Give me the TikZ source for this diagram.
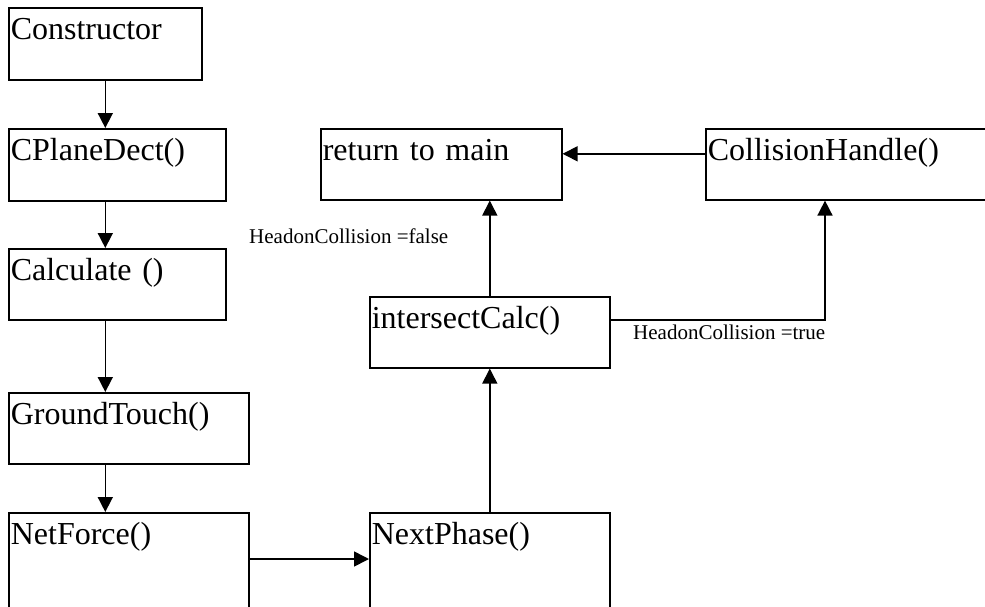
\documentclass[tikz,border=0pt]{standalone}
\usepackage{fontspec}
\setmainfont{Liberation Serif}
\usetikzlibrary{arrows.meta}
\tikzset{
  fbox/.style={draw, line width=1.6pt, anchor=north west, inner xsep=2pt, inner ysep=0pt,
    align=left, text height=32pt, font=\fontsize{32}{38}\selectfont},
  arr/.style={line width=1.6pt, -{Triangle[length=15pt,width=15pt]}},
  cond/.style={anchor=base west, inner sep=0pt, font=\fontsize{21}{25}\selectfont}
}
\begin{document}
\begin{tikzpicture}[x=1pt,y=-1pt]
\useasboundingbox (0,0) rectangle (985,606);
\clip (0,0) rectangle (985,606);
\fill[white] (0,0) rectangle (985,606);
% boxes: text width = W-4, text depth = H-32
\node[fbox, text width=189pt, text depth=40pt] (cons) at (8,7) {Constructor};
\node[fbox, text width=213pt, text depth=40pt] (cpd) at (8,128) {CPlaneDect()};
\node[fbox, text width=213pt, text depth=39pt] (calc) at (8,248) {Calculate ()};
\node[fbox, text width=236pt, text depth=39pt] (gt) at (8,392) {GroundTouch()};
\node[fbox, text width=236pt, text depth=106pt] (nf) at (8,512) {NetForce()};
\node[fbox, text width=236pt, text depth=106pt] (np) at (369,512) {NextPhase()};
\node[fbox, text width=236pt, text depth=39pt] (ic) at (369,296) {intersectCalc()};
\node[fbox, text width=237pt, text depth=39pt] (rtm) at (320,128) {return to main};
\node[fbox, text width=301pt, text depth=39pt] (ch) at (705,128) {CollisionHandle()};
% connectors
\draw[arr] (cons.south) -- (cons.south |- cpd.north);
\draw[arr] (cons.south |- cpd.south) -- (cons.south |- calc.north);
\draw[arr] (cons.south |- calc.south) -- (cons.south |- gt.north);
\draw[arr] (cons.south |- gt.south) -- (cons.south |- nf.north);
\draw[arr] ([yshift=-47pt]nf.north east) -- ([yshift=-47pt]np.north west);
\draw[arr] (np.north) -- (ic.south);
\draw[arr] (ic.north) -- (ic.north |- rtm.south);
\draw[arr] ([yshift=12.5pt]ic.east) -| ([xshift=120pt]ch.south west);
\draw[arr] ([yshift=10.5pt]ch.west) -- ([yshift=10.5pt]rtm.east);
% condition labels
\node[cond] (lfalse) at (249,243) {HeadonCollision =false};
\node[cond] (ltrue) at (633,339) {HeadonCollision =true};
\end{tikzpicture}
\end{document}
